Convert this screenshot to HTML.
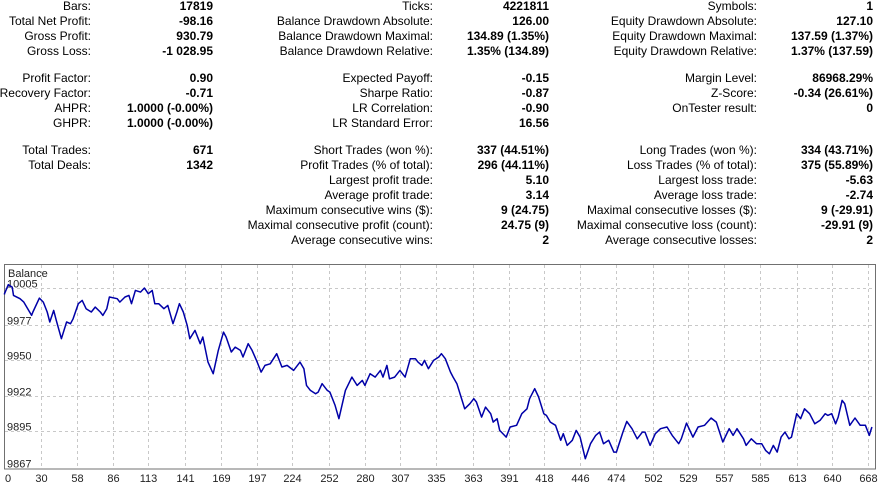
<!DOCTYPE html>
<html><head><meta charset="utf-8"><style>
body{margin:0;width:878px;height:488px;background:#fff;overflow:hidden;font-family:"Liberation Sans",sans-serif;font-size:12px;color:#000;position:relative}
.r{position:absolute;white-space:nowrap;text-align:right;line-height:15px}
.l{width:300px}
.v{width:200px;font-weight:bold}
svg{position:absolute;left:0;top:0}
</style></head><body>
<div id="stats"></div>
<svg id="chart" width="878" height="488"></svg>
<script>
const rows=[7,22,37,52,79,94,109,124,151,166,181,196,211,226,241];
const col1=[["Bars:","17819",0],["Total Net Profit:","-98.16",1],["Gross Profit:","930.79",2],["Gross Loss:","-1 028.95",3],["Profit Factor:","0.90",4],["Recovery Factor:","-0.71",5],["AHPR:","1.0000 (-0.00%)",6],["GHPR:","1.0000 (-0.00%)",7],["Total Trades:","671",8],["Total Deals:","1342",9]];
const col2=[["Ticks:","4221811",0],["Balance Drawdown Absolute:","126.00",1],["Balance Drawdown Maximal:","134.89 (1.35%)",2],["Balance Drawdown Relative:","1.35% (134.89)",3],["Expected Payoff:","-0.15",4],["Sharpe Ratio:","-0.87",5],["LR Correlation:","-0.90",6],["LR Standard Error:","16.56",7],["Short Trades (won %):","337 (44.51%)",8],["Profit Trades (% of total):","296 (44.11%)",9],["Largest profit trade:","5.10",10],["Average profit trade:","3.14",11],["Maximum consecutive wins ($):","9 (24.75)",12],["Maximal consecutive profit (count):","24.75 (9)",13],["Average consecutive wins:","2",14]];
const col3=[["Symbols:","1",0],["Equity Drawdown Absolute:","127.10",1],["Equity Drawdown Maximal:","137.59 (1.37%)",2],["Equity Drawdown Relative:","1.37% (137.59)",3],["Margin Level:","86968.29%",4],["Z-Score:","-0.34 (26.61%)",5],["OnTester result:","0",6],["Long Trades (won %):","334 (43.71%)",8],["Loss Trades (% of total):","375 (55.89%)",9],["Largest loss trade:","-5.63",10],["Average loss trade:","-2.74",11],["Maximal consecutive losses ($):","9 (-29.91)",12],["Maximal consecutive loss (count):","-29.91 (9)",13],["Average consecutive losses:","2",14]];
const st=document.getElementById('stats');
function addCol(arr,lr,vr){arr.forEach(([lab,val,ri])=>{
 const top=rows[ri]-8;
 const a=document.createElement('div');a.className='r l';a.style.left=(lr-300)+'px';a.style.top=top+'px';a.textContent=lab;
 
 
 st.appendChild(a);
 const b=document.createElement('div');b.className='r v';b.style.left=(vr-200)+'px';b.style.top=top+'px';b.textContent=val;
 
 
 st.appendChild(b);});}
addCol(col1,91,213);addCol(col2,433,549);addCol(col3,757,873);
</script>
<script>
const trades=[0,2,5,8,9,14,17,20,23,24,29,32,35,37,40,42,46,50,53,55,59,62,65,69,72,76,78,81,83,89,91,95,98,100,103,107,110,113,116,118,121,125,128,132,135,137,140,143,145,149,153,155,159,163,167,171,173,177,180,184,186,190,193,197,200,203,207,212,216,220,225,230,233,235,238,242,244,247,251,253,257,260,265,270,274,278,280,284,288,292,294,297,299,303,307,311,315,319,321,324,326,329,333,337,339,342,346,348,351,355,357,361,364,366,370,373,377,379,382,384,389,392,397,401,405,407,411,414,418,420,423,427,431,433,436,440,443,446,450,454,458,461,464,468,472,474,479,482,486,490,494,496,500,504,508,513,517,522,524,528,533,537,542,547,551,556,561,564,567,572,574,578,582,586,589,592,595,598,601,604,607,609,613,616,619,623,627,631,635,637,640,643,645,648,650,654,658,662,666,669,671];
const balance=[10000,10000.6,10007.5,10005.7,9999.3,9996.8,9994.2,9989.1,9984.0,9986.6,9997.3,9994.2,9986.6,9978.9,9987.8,9980.2,9966.1,9978.9,9977.6,9981.4,9993.0,9995.5,9989.1,9986.6,9990.4,9986.6,9984.0,9989.1,9998.1,9996.8,9994.2,9998.1,9999.3,9993.0,10003.2,10001.9,10005.0,10000.6,10003.2,9993.0,9993.0,9989.1,9991.7,9977.6,9986.6,9993.0,9986.6,9976.3,9966.1,9972.5,9962.3,9967.4,9948.2,9939.3,9957.2,9971.2,9967.4,9955.9,9959.7,9957.2,9952.1,9962.3,9957.2,9948.2,9940.5,9945.7,9946.9,9954.6,9944.4,9945.7,9941.8,9948.2,9943.1,9930.3,9926.5,9923.9,9925.2,9931.6,9926.5,9925.2,9915.0,9904.8,9926.5,9936.7,9930.3,9934.2,9930.3,9939.3,9936.7,9941.8,9936.7,9945.7,9935.4,9936.7,9941.8,9936.7,9950.8,9950.8,9948.2,9945.7,9949.5,9943.1,9949.5,9952.1,9954.6,9950.8,9940.5,9936.7,9931.6,9918.8,9912.4,9916.3,9920.1,9917.6,9906.0,9913.7,9908.6,9902.2,9904.8,9895.8,9890.7,9898.4,9899.7,9908.6,9912.4,9920.1,9927.8,9921.4,9908.6,9907.3,9902.2,9899.7,9888.2,9893.3,9884.3,9888.2,9895.8,9890.7,9874.1,9885.6,9892.0,9894.5,9885.6,9888.2,9879.2,9879.2,9894.5,9902.7,9897.1,9889.4,9894.5,9894.5,9884.3,9893.3,9897.1,9898.4,9892.0,9885.6,9889.4,9901.4,9890.7,9898.4,9899.7,9905.3,9902.2,9886.9,9897.1,9892.0,9897.1,9889.4,9884.3,9889.4,9885.6,9885.6,9880.5,9877.9,9884.3,9879.2,9890.7,9894.5,9889.4,9890.7,9908.6,9904.8,9912.4,9908.6,9900.9,9903.5,9908.6,9907.3,9908.6,9900.9,9906.0,9918.8,9916.3,9899.7,9905.3,9899.7,9899.7,9892.0,9898.4];
const yTicks=[10005,9977,9950,9922,9895,9867];
const xTicks=[0,30,58,86,113,141,169,197,224,252,280,307,335,363,391,418,446,474,502,529,557,585,613,640,668];
const NS='http://www.w3.org/2000/svg';
const svg=document.getElementById('chart');
const L=4,R=876,T=264,B=468.5;
function xs(n){return Math.max(L+0.5,1.8+n*1.2967);}
function ys(v){return 468-(v-9867)/0.7667;}
function el(t,a){const e=document.createElementNS(NS,t);for(const k in a)e.setAttribute(k,a[k]);svg.appendChild(e);return e;}
const frame=el('rect',{x:L+0.5,y:T+0.5,width:R-L-1,height:B-T,fill:'#fff',stroke:'#707070','stroke-width':1});


yTicks.forEach((v,i)=>{const y=Math.round(ys(v))+0.5;
 if(i<yTicks.length-1){const g=el('line',{x1:L+1,x2:R-1,y1:y,y2:y,stroke:'#c8c8c8','stroke-dasharray':'3,3'});
 
 }
 const t=el('text',{x:7,y:y-1,'font-size':11,'font-family':'Liberation Sans, sans-serif',fill:'#222'});t.textContent=v;
 
 });
xTicks.forEach((n,i)=>{const x=Math.round(xs(n))+0.5;
 if(i>0){const g=el('line',{x1:x,x2:x,y1:T+1,y2:B,stroke:'#c8c8c8','stroke-dasharray':'3,3'});
 
 }
 const t=el('text',{x:i==0?8:x,y:482,'font-size':11,'text-anchor':'middle','font-family':'Liberation Sans, sans-serif',fill:'#222'});t.textContent=n;
 
 });
const ttl=el('text',{x:8,y:277,'font-size':11,'font-family':'Liberation Sans, sans-serif',fill:'#222'});ttl.textContent='Balance';


const pts=trades.map((n,i)=>xs(n).toFixed(1)+','+ys(balance[i]).toFixed(1)).join(' ');
const line=el('polyline',{points:pts,fill:'none',stroke:'#0000a8','stroke-width':1.5,'stroke-linejoin':'round'});


</script>
</body></html>
